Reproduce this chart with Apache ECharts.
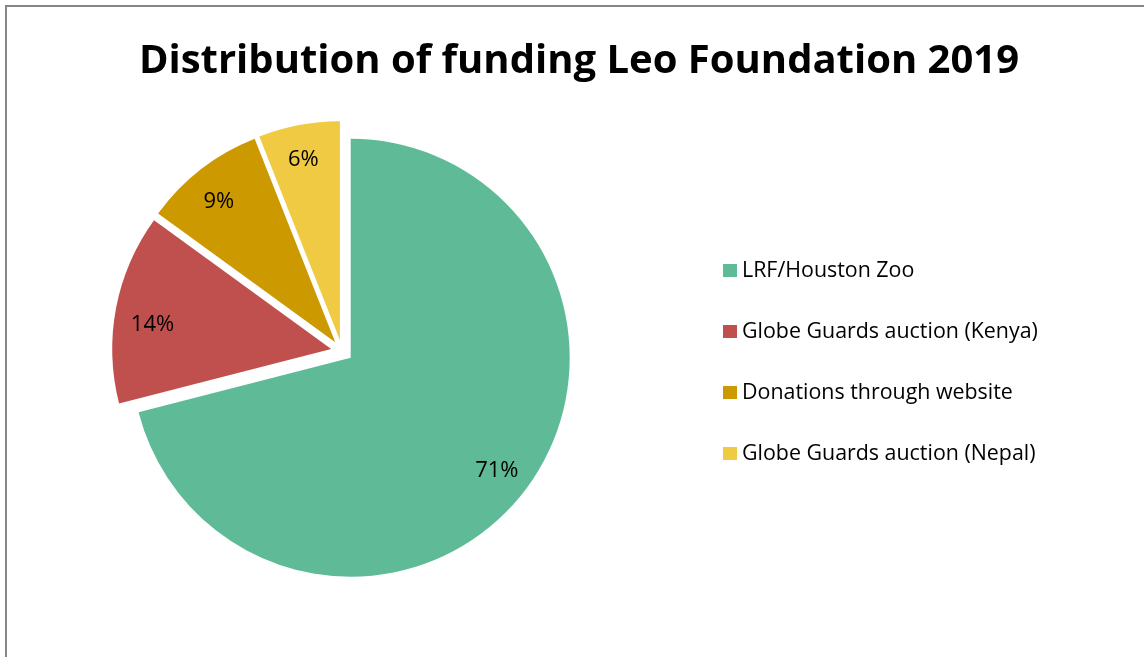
<!DOCTYPE html>
<html>
<head>
<meta charset="utf-8">
<style>
html,body{margin:0;padding:0;background:#fff;}
#chart{width:1144px;height:657px;}
</style>
<script src="https://cdn.jsdelivr.net/npm/echarts@6/dist/echarts.min.js"></script>
</head>
<body>
<div id="chart"></div>
<script>
const categories = ['LRF/Houston Zoo', 'Globe Guards auction (Kenya)', 'Donations through website', 'Globe Guards auction (Nepal)'];
const values = [71, 14, 9, 6];
const colors = ['#5FBB97', '#C0504D', '#CC9900', '#F0CA42'];
// label padding [top, right, bottom, left] to nudge text like the original
const labelPadding = [[0, 0, 0, 0], [20, 0, 0, 6], [12, 6, 0, 0], [2, 4, 0, 0]];

const chart = echarts.init(document.getElementById('chart'));
const font = '"Open Sans", "DejaVu Sans", sans-serif';
const pieData = categories.map((c, i) => ({ name: c, value: values[i], selected: true, itemStyle: { color: colors[i] } }));
const labelData = categories.map((c, i) => ({
  name: c, value: values[i], selected: true,
  label: {
    formatter: '{v|{c}%}',
    rich: { v: { padding: labelPadding[i], fontFamily: font, fontSize: 22, color: '#000' } }
  }
}));
chart.setOption({
  animation: false,
  backgroundColor: '#fff',
  title: {
    text: 'Distribution of funding Leo Foundation 2019',
    left: 574, top: 37, textAlign: 'center',
    textStyle: { fontFamily: font, fontWeight: 'bold', fontSize: 40, color: '#000' }
  },
  graphic: [{
    type: 'rect', silent: true,
    shape: { x: 6, y: 6, width: 1160, height: 700 },
    style: { fill: null, stroke: '#868686', lineWidth: 2 }
  }],
  legend: {
    orient: 'vertical', left: 723, top: 260, padding: 0,
    itemWidth: 14, itemHeight: 13, itemGap: 40, icon: 'rect',
    data: categories,
    selectedMode: false,
    textStyle: { fontFamily: font, fontSize: 21.4, color: '#000', lineHeight: 21 }
  },
  series: [{
    type: 'pie', center: [342, 351], radius: [0, 219],
    startAngle: 90, clockwise: true,
    selectedMode: 'multiple', selectedOffset: 11,
    label: { show: false }, labelLine: { show: false },
    emphasis: { disabled: true }, select: { itemStyle: {} },
    silent: true,
    data: pieData
  }, {
    type: 'pie', center: [342, 351], radius: [145, 219],
    startAngle: 90, clockwise: true,
    selectedMode: 'multiple', selectedOffset: 11,
    itemStyle: { color: 'rgba(0,0,0,0)' },
    label: { show: true, position: 'inside', fontFamily: font, fontSize: 22, color: '#000' },
    labelLine: { show: false },
    emphasis: { disabled: true },
    silent: true,
    data: labelData
  }]
});
</script>
</body>
</html>
